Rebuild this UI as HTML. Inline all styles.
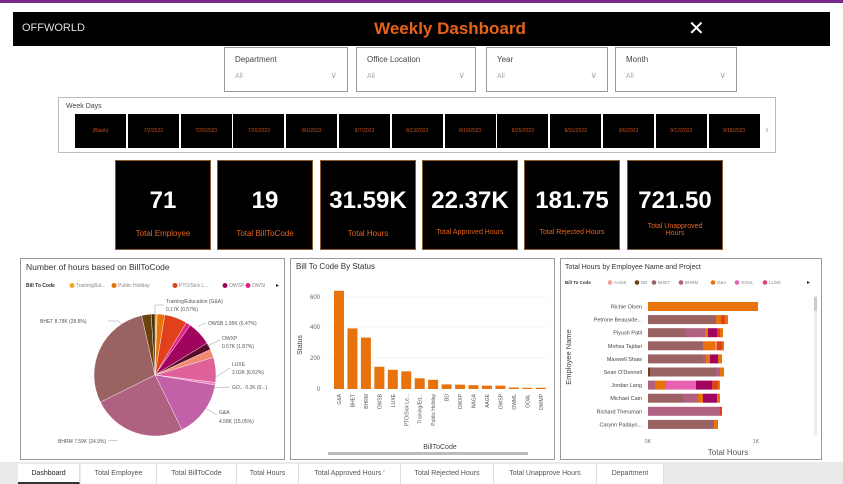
<!DOCTYPE html>
<html><head><meta charset="utf-8"><style>
*{margin:0;padding:0;box-sizing:border-box}
body{width:843px;height:484px;background:#fff;font-family:"Liberation Sans",sans-serif;position:relative;overflow:hidden}
.a{position:absolute}
.filt{position:absolute;top:47px;height:45px;border:1.5px solid #9a9a9a;background:#fff}
.filt .l{position:absolute;left:10px;top:7px;font-size:8px;color:#444}
.filt .v{position:absolute;left:10px;top:25px;font-size:7px;color:#aaa}
.filt .c{position:absolute;right:10px;top:22px;font-size:9px;color:#aaa}
.tile{position:absolute;top:114px;height:34px;width:51px;background:#000;color:#c8501a;font-size:5px;text-align:center;line-height:34px}
.kpi{position:absolute;top:160px;width:96px;height:90px;background:#000;border:1.5px solid #8a5a2a;text-align:center;color:#fff}
.kpi .n{position:absolute;top:26px;width:100%;font-size:24px;font-weight:bold}
.kpi .t{position:absolute;top:68px;width:100%;font-size:8px;color:#e8621a}
.panel{position:absolute;top:258px;height:202px;border:1.5px solid #999;background:#fff}
.tab{position:absolute;top:464px;height:20px;font-size:7px;color:#555;line-height:20px;text-align:center;border-right:1px solid #ddd}
</style></head><body>
<div class="a" style="left:0;top:0;width:843px;height:3px;background:#7a2a8a"></div>
<div class="a" style="left:13px;top:12px;width:817px;height:34px;background:#000"></div>
<div class="a" style="left:22px;top:22px;color:#ddd;font-size:11px;letter-spacing:0px">OFFWORLD</div>
<div class="a" style="left:360px;top:19px;width:180px;text-align:center;color:#e8621a;font-size:17px;font-weight:bold">Weekly Dashboard</div>
<div class="a" style="left:688px;top:16px;color:#fff;font-size:20px">✕</div>

<div class="filt" style="left:224px;width:124px"><div class="l">Department</div><div class="v">All</div><div class="c">∨</div></div>
<div class="filt" style="left:356px;width:120px"><div class="l">Office Location</div><div class="v">All</div><div class="c">∨</div></div>
<div class="filt" style="left:486px;width:122px"><div class="l">Year</div><div class="v">All</div><div class="c">∨</div></div>
<div class="filt" style="left:615px;width:122px"><div class="l">Month</div><div class="v">All</div><div class="c">∨</div></div>

<div class="a" style="left:58px;top:97px;width:718px;height:56px;border:1.5px solid #bbb"></div>
<div class="a" style="left:66px;top:103px;font-size:7px;color:#444">Week Days</div>
<div id="tiles"></div>
<div class="a" style="left:765px;top:124px;font-size:11px;color:#aaa">›</div>

<div class="kpi" style="left:115px"><div class="n">71</div><div class="t">Total Employee</div></div>
<div class="kpi" style="left:217px"><div class="n">19</div><div class="t">Total BillToCode</div></div>
<div class="kpi" style="left:320px"><div class="n">31.59K</div><div class="t">Total Hours</div></div>
<div class="kpi" style="left:422px"><div class="n">22.37K</div><div class="t" style="font-size:7px">Total Approved Hours</div></div>
<div class="kpi" style="left:524px"><div class="n">181.75</div><div class="t" style="font-size:7px">Total Rejected Hours</div></div>
<div class="kpi" style="left:627px"><div class="n">721.50</div><div class="t" style="top:62px;font-size:7px">Total Unapproved<br>Hours</div></div>

<div class="panel" style="left:20px;width:265px"></div>
<div class="panel" style="left:290px;width:265px"></div>
<div class="panel" style="left:560px;width:262px"></div>

<svg class="a" style="left:0;top:0" width="843" height="484" font-family="Liberation Sans, sans-serif">
<text x="26" y="270" font-size="8.5" fill="#333">Number of hours based on BillToCode</text>
<text x="26" y="287" font-size="5" fill="#333" font-weight="bold">Bill To Code</text>
<g font-size="5" fill="#888">
<circle cx="72" cy="285.5" r="2.5" fill="#f5a623"/><text x="76" y="287">Training/Ed...</text>
<circle cx="114" cy="285.5" r="2.5" fill="#e8720c"/><text x="118" y="287">Public Holiday</text>
<circle cx="175" cy="285.5" r="2.5" fill="#e0401a"/><text x="179" y="287">PTO/Sick L...</text>
<circle cx="225" cy="285.5" r="2.5" fill="#a0045e"/><text x="229" y="287">OWSP</text>
<circle cx="248" cy="285.5" r="2.5" fill="#e0218a"/><text x="252" y="287">OWSI</text>
</g><text x="276" y="287" font-size="6" fill="#222">▸</text>
<g id="pie"></g>
<g font-size="5" fill="#555">
<text x="166" y="303">Training/Education (G&amp;A)</text><text x="166" y="311">0.17K (0.57%)</text>
<text x="208" y="325">OWSB 1.95K (6.47%)</text>
<text x="222" y="340">OWXP</text><text x="222" y="348">0.57K (1.87%)</text>
<text x="232" y="366">LUXE</text><text x="232" y="374">2.02K (6.62%)</text>
<text x="232" y="389">GO... 0.2K (0...)</text>
<text x="219" y="414">G&amp;A</text><text x="219" y="423">4.58K (15.05%)</text>
<text x="58" y="443">BHRM 7.59K (24.9%)</text>
<text x="40" y="323">BHET 8.78K (28.8%)</text>
</g>
<g stroke="#999" stroke-width="0.5" fill="none">
<polyline points="155,318 155,305 164,305"/><polyline points="198,326 206,323"/><polyline points="207,346 220,340"/>
<polyline points="214,378 230,368"/><polyline points="213,388 230,387"/><polyline points="205,408 217,415"/>
<polyline points="118,440 108,441"/><polyline points="108,321 118,321 123,326"/>
</g>

<text x="296" y="269" font-size="8" fill="#333">Bill To Code By Status</text>
<g font-size="6" fill="#666" text-anchor="end">
<text x="320" y="299">600</text><text x="320" y="329">400</text><text x="320" y="360">200</text><text x="320" y="391">0</text></g>
<g stroke="#eee" stroke-width="0.6"><line x1="324" y1="297" x2="548" y2="297"/><line x1="324" y1="327" x2="548" y2="327"/><line x1="324" y1="358" x2="548" y2="358"/></g>
<text transform="translate(302,345) rotate(-90)" font-size="7" fill="#444" text-anchor="middle">Status</text>
<g id="bars"></g>
<text x="440" y="449" font-size="7" fill="#444" text-anchor="middle">BillToCode</text>
<rect x="328" y="452" width="200" height="3" fill="#bbb"/>

<text x="565" y="269" font-size="7" fill="#333">Total Hours by Employee Name and Project</text>
<text x="565" y="284" font-size="4.5" fill="#333" font-weight="bold">Bill To Code</text>
<g font-size="4.5" fill="#888">
<circle cx="610" cy="282.5" r="2.3" fill="#f4a090"/><text x="614" y="284">AAGE</text>
<circle cx="637" cy="282.5" r="2.3" fill="#6a4210"/><text x="641" y="284">BD</text>
<circle cx="654" cy="282.5" r="2.3" fill="#9a6262"/><text x="658" y="284">BHET</text>
<circle cx="681" cy="282.5" r="2.3" fill="#b06080"/><text x="685" y="284">BHRM</text>
<circle cx="713" cy="282.5" r="2.3" fill="#e8720c"/><text x="717" y="284">G&amp;A</text>
<circle cx="737" cy="282.5" r="2.3" fill="#e860b0"/><text x="741" y="284">GOAL</text>
<circle cx="765" cy="282.5" r="2.3" fill="#e0407a"/><text x="769" y="284">LUXE</text>
</g><text x="807" y="284" font-size="6" fill="#222">▸</text>
<g id="hb"></g>
<rect x="814" y="296" width="3" height="140" fill="#eee"/><rect x="814" y="297" width="3" height="14" fill="#ccc"/>
<text transform="translate(571,357) rotate(-90)" font-size="7.5" fill="#444" text-anchor="middle">Employee Name</text>
<text x="648" y="443" font-size="5.5" fill="#777" text-anchor="middle">0K</text>
<text x="756" y="443" font-size="5.5" fill="#777" text-anchor="middle">1K</text>
<text x="728" y="455" font-size="8" fill="#555" text-anchor="middle">Total Hours</text>
</svg>

<div class="a" style="left:0;top:462px;width:843px;height:22px;background:#eaeaea"></div>
<div class="tab" style="left:18px;width:62px;background:#fff;border-bottom:2px solid #333;color:#222">Dashboard</div>
<div class="tab" style="left:81px;width:76px;background:#fff">Total Employee</div>
<div class="tab" style="left:157px;width:80px;background:#fff">Total BillToCode</div>
<div class="tab" style="left:237px;width:62px;background:#fff">Total Hours</div>
<div class="tab" style="left:299px;width:102px;background:#fff">Total Approved Hours '</div>
<div class="tab" style="left:401px;width:93px;background:#fff">Total Rejected Hours</div>
<div class="tab" style="left:494px;width:103px;background:#fff">Total Unapprove Hours</div>
<div class="tab" style="left:597px;width:67px;background:#fff">Department</div>

<script>
var ns="http://www.w3.org/2000/svg";
var t=document.getElementById('tiles'),d=["(Blank)","7/2/2023","7/20/2023","7/26/2023","8/1/2023","8/7/2023","8/13/2023","8/19/2023","8/25/2023","8/31/2023","9/6/2023","9/12/2023","9/18/2023"];
d.forEach(function(s,i){var e=document.createElement('div');e.className='tile';e.style.left=(75+i*52.8)+'px';e.textContent=s;t.appendChild(e);});
var sl=[[0.57,"#f5a623"],[2,"#e8720c"],[6,"#e0401a"],[1.2,"#e0218a"],[6.47,"#a0045e"],[1.87,"#5a0a2a"],[2.2,"#f08a70"],[6.62,"#e0609a"],[0.66,"#e880c0"],[15.05,"#c260a8"],[24.9,"#b06080"],[28.8,"#9a6262"],[2.5,"#6a4210"],[1,"#4a3008"]];
var tot=0;sl.forEach(function(s){tot+=s[0]});var a=0,cx=155,cy=375,r=61,p=document.getElementById('pie'),h='';
sl.forEach(function(s){var b=a+s[0]/tot*2*Math.PI;var x1=cx+r*Math.sin(a),y1=cy-r*Math.cos(a),x2=cx+r*Math.sin(b),y2=cy-r*Math.cos(b);
h+='<path d="M'+cx+','+cy+'L'+x1+','+y1+'A'+r+','+r+' 0 '+(b-a>Math.PI?1:0)+' 1 '+x2+','+y2+'Z" fill="'+s[1]+'" stroke="#fff" stroke-width="0.4"/>';a=b;});
p.innerHTML=h;
var bv=[640,395,335,145,125,115,70,60,30,28,25,22,22,10,8,8],bl=["G&A","BHET","BHRM","OWSB","LUXE","PTO/Sick Le...","Training/Ed...","Public Holiday","BD","OWXP","NAGA","AAGE","OWSP","OWML","GOAL","OWMP"];h='';
bv.forEach(function(v,i){var x=334+i*13.45,hh=v*30.7/200;h+='<rect x="'+x+'" y="'+(389-hh)+'" width="10" height="'+hh+'" fill="#e8720c"/>';
h+='<text transform="translate('+(x+7)+',394) rotate(-90)" font-size="5" fill="#555" text-anchor="end">'+bl[i].replace('&','&amp;')+'</text>';});
document.getElementById('bars').innerHTML=h;
var C={bhet:"#9a6262",bhrm:"#b06080",ga:"#e8720c",goal:"#e860b0",owsp:"#a0045e",pto:"#e0401a",bd:"#6a4210",pl:"#f08a70"};
var rows=[["Richie Olsen",[["ga",1100]]],["Petrone Beauside...",[["bhet",680],["ga",50],["pto",40],["ga",30]]],["Piyush Patil",[["bhet",370],["bhrm",200],["ga",30],["owsp",90],["pto",30],["ga",30]]],["Mohsa Tajdari",[["bhet",550],["ga",120],["pl",20],["pto",50],["ga",20]]],["Maxwell Shaw",[["bhet",550],["bhrm",30],["ga",40],["owsp",80],["ga",40]]],["Sean O'Donnell",[["bd",20],["bhet",660],["bhrm",40],["ga",40]]],["Jordan Lang",[["bhrm",70],["ga",110],["goal",300],["owsp",160],["pto",60],["ga",20]]],["Michael Cain",[["bhet",350],["bhrm",150],["ga",50],["owsp",140],["ga",30]]],["Richard Theruman",[["bhrm",720],["pto",20]]],["Carynn Padayo...",[["bhet",660],["ga",40]]]];
h='';rows.forEach(function(r,i){var y=302+i*13.1,x=648;h+='<text x="642" y="'+(y+6.5)+'" font-size="5.5" fill="#444" text-anchor="end">'+r[0]+'</text>';
r[1].forEach(function(s){var w=s[1]*0.1;h+='<rect x="'+x+'" y="'+y+'" width="'+w+'" height="9" fill="'+C[s[0]]+'"/>';x+=w;});});
document.getElementById('hb').innerHTML=h;
</script>
</body></html>
